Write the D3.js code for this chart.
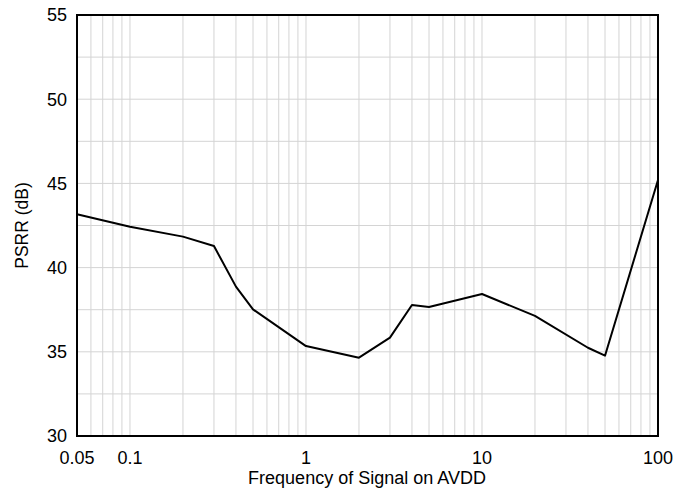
<!DOCTYPE html>
<html>
<head>
<meta charset="utf-8">
<script src="https://cdn.jsdelivr.net/npm/d3@7"></script>
<style>
    body { margin: 0; background: #fff; }
    text { font-family: "Liberation Sans", Arial, sans-serif; fill: #000; }
</style>
</head>
<body>
<svg id="chart" width="677" height="489"></svg>
<script>
    // frequency (as labelled) vs PSRR in dB
    const freq = [0.05, 0.1, 0.2, 0.3, 0.4, 0.5, 1, 2, 3, 4, 5, 10, 20, 40, 50, 100]
    const psrr = [43.17, 42.43, 41.84, 41.28, 38.87, 37.52, 35.34, 34.65, 35.84, 37.78, 37.66, 38.43, 37.13, 35.24, 34.77, 45.2]
    const xTickVals = [0.05, 0.1, 1, 10, 100]
    const yTickVals = [30, 35, 40, 45, 50, 55]

    const svg = d3.select('#chart')
    const plotL = 77, plotR = 658, plotT = 15, plotB = 436

    const x = d3.scaleLog().domain([0.05, 100]).range([plotL, plotR])
    const y = d3.scaleLinear().domain([30, 55]).range([plotB, plotT])

    // vertical grid: every 1..9 of each decade inside the domain
    const xGrid = []
    for (let p = -2; p <= 2; p++) {
        for (let m = 1; m <= 9; m++) {
            const v = m * Math.pow(10, p)
            if (v > 0.05 + 1e-9 && v < 100 - 1e-9) xGrid.push(v)
        }
    }
    const yGrid = d3.range(32.5, 55, 2.5)

    svg.append('g').selectAll('line').data(xGrid).enter().append('line')
        .attr('x1', d => x(d)).attr('x2', d => x(d))
        .attr('y1', plotT).attr('y2', plotB)
        .attr('stroke', '#d4d4d4').attr('stroke-width', 1)

    svg.append('g').selectAll('line').data(yGrid).enter().append('line')
        .attr('x1', plotL).attr('x2', plotR)
        .attr('y1', d => y(d)).attr('y2', d => y(d))
        .attr('stroke', '#d4d4d4').attr('stroke-width', 1)

    const pts = freq.map((f, i) => ({ f: f, v: psrr[i] }))
    const lineFn = d3.line().x(d => x(d.f)).y(d => y(d.v))

    svg.append('path').datum(pts)
        .attr('d', lineFn)
        .attr('fill', 'none')
        .attr('stroke', '#000')
        .attr('stroke-width', 2)
        .attr('stroke-linejoin', 'round')

    // frame
    svg.append('rect')
        .attr('x', plotL).attr('y', plotT)
        .attr('width', plotR - plotL).attr('height', plotB - plotT)
        .attr('fill', 'none').attr('stroke', '#000').attr('stroke-width', 2)

    // tick labels
    svg.append('g').selectAll('text').data(yTickVals).enter().append('text')
        .attr('x', plotL - 10).attr('y', d => y(d))
        .attr('dy', '0.35em')
        .attr('text-anchor', 'end')
        .style('font-size', '18px')
        .text(d => d)

    svg.append('g').selectAll('text').data(xTickVals).enter().append('text')
        .attr('x', d => x(d)).attr('y', 464)
        .attr('text-anchor', 'middle')
        .style('font-size', '18px')
        .text(d => d)

    svg.append('text')
        .attr('x', 367).attr('y', 484)
        .attr('text-anchor', 'middle')
        .style('font-size', '18px')
        .text('Frequency of Signal on AVDD')

    svg.append('text')
        .attr('transform', `translate(28, ${(plotT + plotB) / 2}) rotate(-90)`)
        .attr('text-anchor', 'middle')
        .style('font-size', '17.5px')
        .text('PSRR (dB)')
</script>
</body>
</html>
